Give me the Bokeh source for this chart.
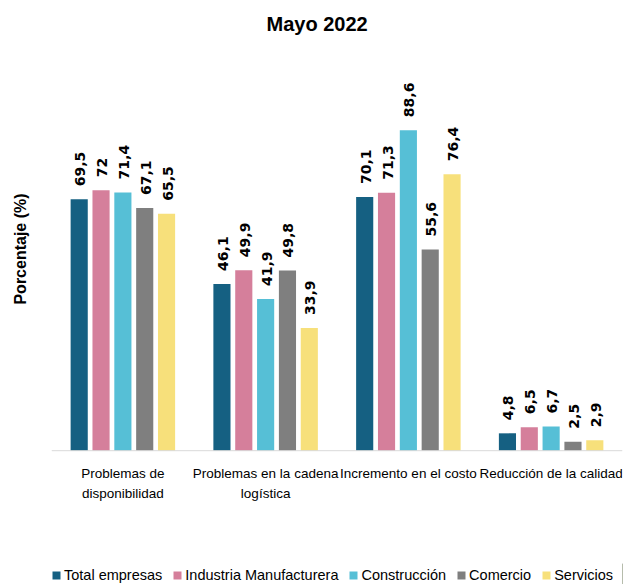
import math
from bokeh.plotting import figure
from bokeh.layouts import column
from bokeh.models import (ColumnDataSource, Legend, LegendItem, FixedTicker, Span, Range1d)
from bokeh.transform import dodge
from bokeh.embed import file_html
from bokeh.resources import INLINE
from bokeh.core.properties import value

categories = ["Problemas de disponibilidad", "Problemas en la cadena logística",
              "Incremento en el costo", "Reducción de la calidad"]
label_line1 = ["Problemas de", "Problemas en la cadena", "Incremento en el costo",
               "Reducción de la calidad"]
label_line2_cats = ["Problemas de disponibilidad", "Problemas en la cadena logística"]
label_line2 = ["disponibilidad", "logística"]
series_names = ["Total empresas", "Industria Manufacturera", "Construcción", "Comercio", "Servicios"]
total_empresas = [69.5, 46.1, 70.1, 4.8]
industria = [72.0, 49.9, 71.3, 6.5]
construccion = [71.4, 41.9, 88.6, 6.7]
comercio = [67.1, 49.8, 55.6, 2.5]
servicios = [65.5, 33.9, 76.4, 2.9]
series_values = [total_empresas, industria, construccion, comercio, servicios]
colors = ["#156082", "#D57F9B", "#56BFD6", "#7F7F7F", "#F7E07B"]

W = 630
FONT = "Liberation Sans"

# ---- main chart ----
p = figure(x_range=categories, y_range=(-0.5, 112), width=W, height=452,
           output_backend="svg", toolbar_location=None,
           min_border_left=51, min_border_right=8, min_border_top=0, min_border_bottom=0)
p.title.text = "Mayo 2022"
p.title.align = "left"
p.title.offset = 215
p.title.text_font = FONT
p.title.text_font_size = "20px"
p.title.text_font_style = "bold"
p.title.text_color = "#000000"
p.title.standoff = 21

p.outline_line_color = None
p.xgrid.grid_line_color = None
p.ygrid.grid_line_color = None
p.xaxis.visible = False

p.yaxis.ticker = FixedTicker(ticks=[])
p.yaxis.axis_label = "Porcentaje (%)"
p.yaxis.axis_label_text_font = FONT
p.yaxis.axis_label_text_font_size = "16px"
p.yaxis.axis_label_text_font_style = "bold"
p.yaxis.axis_label_text_color = "#000000"
p.yaxis.axis_line_color = None
p.yaxis.major_tick_line_color = None
p.yaxis.minor_tick_line_color = None
p.yaxis.major_tick_out = 0
p.yaxis.major_tick_in = 0
p.yaxis.axis_label_standoff = 23

p.add_layout(Span(location=0, dimension="width", line_color="#D9D9D9", line_width=1))

offsets = [-0.306, -0.153, 0.0, 0.153, 0.306]
for name, vals, col, off in zip(series_names, series_values, colors, offsets):
    src = ColumnDataSource(dict(cat=categories, val=vals,
                                lbl=[f"{v:g}".replace(".", ",") for v in vals]))
    p.vbar(x=dodge("cat", off, range=p.x_range), top="val", bottom=0, width=0.12,
           source=src, fill_color=col, line_color=None)
    p.text(x=dodge("cat", off, range=p.x_range), y="val", text="lbl", source=src,
           angle=math.pi / 2, text_align="left", text_baseline="middle",
           y_offset=-13, x_offset=1, text_font=value("DejaVu Sans"),
           text_font_style="bold", text_font_size="14px", text_color="#000000")

# ---- category labels strip ----
pc = figure(x_range=p.x_range, y_range=Range1d(111, 0), width=W, height=111,
            output_backend="svg", toolbar_location=None, min_border_left=51,
            min_border_right=8, min_border_top=0, min_border_bottom=0)
pc.axis.visible = False
pc.grid.grid_line_color = None
pc.outline_line_color = None
pc.text(x=categories, y=[21] * len(categories), text=label_line1,
        text_align="center", text_baseline="middle", text_font=value(FONT),
        text_font_size="13.5px", text_color="#000000")
pc.text(x=label_line2_cats, y=[41] * len(label_line2_cats), text=label_line2,
        text_align="center", text_baseline="middle", text_font=value(FONT),
        text_font_size="13.5px", text_color="#000000")

# ---- legend strip ----
pl = figure(width=W, height=21, x_range=(0, 1), y_range=(0, 1), output_backend="svg",
            toolbar_location=None, min_border=0)
pl.axis.visible = False
pl.grid.grid_line_color = None
pl.outline_line_color = None
items = []
for name, col in zip(series_names, colors):
    r = pl.vbar(x=[10], top=[1], bottom=[0], width=0.1, fill_color=col, line_color=None)
    items.append(LegendItem(label=name, renderers=[r]))
legend = Legend(items=items, orientation="horizontal", location=(0, 1),
                glyph_width=10, glyph_height=10, label_standoff=3, spacing=10,
                padding=0, margin=0, border_line_color=None, background_fill_alpha=0,
                label_text_font=FONT, label_text_font_size="14.5px",
                label_text_color="#000000", label_height=16)
pl.add_layout(legend, "center")

layout = column(p, pc, pl, spacing=0)
open("out.html", "w").write(file_html(layout, INLINE))
